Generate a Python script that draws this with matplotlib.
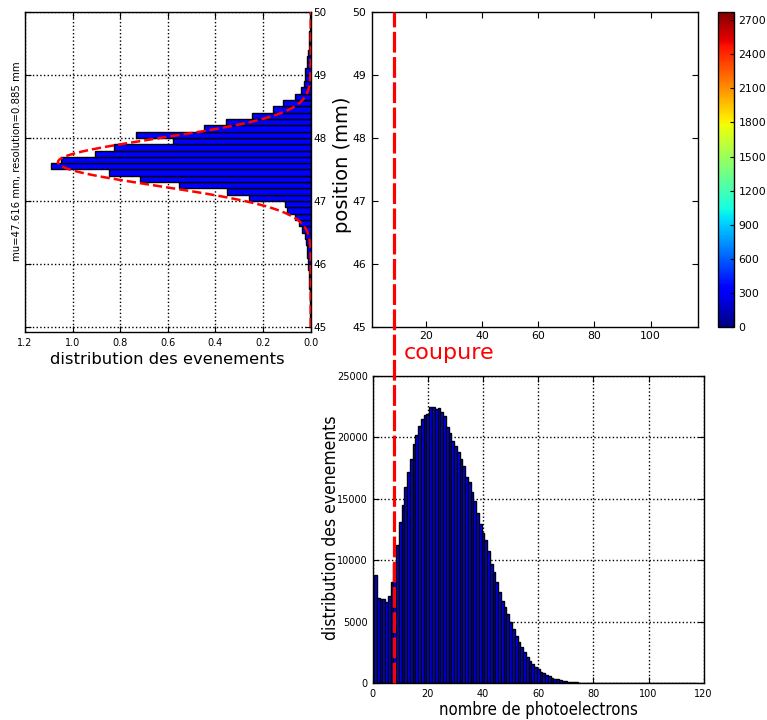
import numpy as np
import matplotlib
matplotlib.use("Agg")
import matplotlib.pyplot as plt
from matplotlib.lines import Line2D
from matplotlib import transforms
from matplotlib.cm import ScalarMappable
from matplotlib.colors import Normalize

# ---------------- data ----------------
# left panel: normalised distribution of positions (bins of 0.1 mm from 45.0 to 50.0)
pos_bin_low = np.round(np.arange(45.0, 50.0, 0.1), 1)
pos_density = [0.003, 0.003, 0.004, 0.004, 0.005, 0.005, 0.006, 0.007, 0.008, 0.010,
               0.011, 0.014, 0.017, 0.020, 0.026, 0.036, 0.048, 0.065, 0.098, 0.107,
               0.261, 0.353, 0.553, 0.716, 0.847, 1.090, 1.049, 0.906, 0.827, 0.579,
               0.732, 0.448, 0.356, 0.246, 0.160, 0.115, 0.065, 0.039, 0.028, 0.022,
               0.022, 0.017, 0.014, 0.011, 0.008, 0.007, 0.006, 0.004, 0.003, 0.003]
fit_mu = 47.616
fit_resolution = 0.885  # FWHM (mm)

# bottom panel: number of photoelectrons
n_pe = np.arange(1, 118)
pe_counts = [8780, 6960, 6830, 6830, 6610, 7130, 8210, 9760, 11250, 13140,
             14520, 15960, 17180, 18210, 19460, 20190, 20950, 21520, 21810, 21870,
             22490, 22440, 22300, 22410, 22060, 21710, 20840, 20350, 19700, 19270,
             18800, 18250, 17700, 16800, 16340, 15530, 14820, 13820, 12950, 12200,
             11650, 10760, 9700, 9030, 8210, 7400, 6720, 6230, 5610, 4960,
             4420, 3850, 3390, 2980, 2570, 2170, 1810, 1600, 1300, 1140,
             950, 810, 680, 560, 460, 380, 310, 250, 200, 165,
             130, 105, 85, 68, 55, 44, 35, 28, 22, 18,
             15, 12, 10, 8, 7, 6, 5, 4, 4, 3,
             3, 2, 2, 2, 2, 1, 1, 1, 1, 1,
             1, 1, 1, 0, 1, 0, 0, 1, 0, 0,
             0, 0, 0, 0, 0, 0, 1]
cut_value = 7.8

# colorbar of the (empty) 2-D map
cbar_max = 2773
cbar_ticks = list(range(0, 2701, 300))

left_xticks = [0.0, 0.2, 0.4, 0.6, 0.8, 1.0, 1.2]
pos_ticks = [45, 46, 47, 48, 49, 50]
top_xticks = [20, 40, 60, 80, 100]
bot_xticks = [0, 20, 40, 60, 80, 100, 120]
bot_yticks = [0, 5000, 10000, 15000, 20000, 25000]

# ---------------- figure ----------------
W, H = 767, 720
fig = plt.figure(figsize=(W / 100, H / 100), dpi=100)
plt.rcParams['font.family'] = ['DejaVu Sans']


def box(x0, y0, x1, y1):
    return [x0 / W, 1 - y1 / H, (x1 - x0) / W, (y1 - y0) / H]


def classic_ticks(ax, size):
    ax.tick_params(which='both', direction='in', top=True, right=True,
                   length=4, width=0.8, labelsize=size, colors='black')
    for s in ax.spines.values():
        s.set_linewidth(1.0)
        s.set_color('black')


# left panel
axL = fig.add_axes(box(25, 11.7, 310.7, 332.3))
axL.barh(pos_bin_low, pos_density, height=0.1, align='edge', color='blue',
         edgecolor='black', linewidth=1.0, zorder=2)
sigma = fit_resolution / (2 * np.sqrt(2 * np.log(2)))
yy = np.linspace(45, 50, 400)
gauss = np.exp(-0.5 * ((yy - fit_mu) / sigma) ** 2) / (sigma * np.sqrt(2 * np.pi))
axL.plot(gauss, yy, color='red', linestyle='--', linewidth=1.8, zorder=3)
axL.set_xlim(1.2, 0.0)
axL.set_ylim(44.92, 50)
axL.set_xticks(left_xticks)
axL.set_yticks(pos_ticks)
axL.grid(True, linestyle=':', color='black', linewidth=1.0, zorder=0)
axL.set_axisbelow(True)
classic_ticks(axL, 7)
axL.tick_params(axis='y', labelleft=False, labelright=True, labelsize=7.5, pad=2)
axL.tick_params(axis='x', pad=4)

# top right panel (empty map)
axT = fig.add_axes(box(371.7, 11.7, 698.3, 327.3))
axT.set_xlim(0.8, 117)
axT.set_ylim(45, 50)
axT.set_xticks(top_xticks)
axT.set_yticks(pos_ticks)
classic_ticks(axT, 7.8)
axT.tick_params(axis='x', pad=2.5)
axT.tick_params(axis='y', pad=4)

# colorbar
cax = fig.add_axes(box(718.3, 11.7, 734.3, 327.3))
sm = ScalarMappable(norm=Normalize(0, cbar_max), cmap='jet')
cb = fig.colorbar(sm, cax=cax, ticks=cbar_ticks)
cb.outline.set_linewidth(1.0)
cax.tick_params(direction='in', length=3, labelsize=7.8, pad=3)

# bottom panel
axB = fig.add_axes(box(372.7, 375.7, 703.7, 683.3))
axB.bar(n_pe, pe_counts, width=1.0, align='center', color='blue',
        edgecolor='black', linewidth=1.0, zorder=2)
axB.set_xlim(0, 120)
axB.set_ylim(0, 25000)
axB.set_xticks(bot_xticks)
axB.set_yticks(bot_yticks)
axB.grid(True, linestyle=':', color='black', linewidth=1.0, zorder=0)
axB.set_axisbelow(True)
classic_ticks(axB, 7)
axB.tick_params(axis='x', pad=4)

# cut line spanning both right panels
trans = transforms.blended_transform_factory(axB.transData, fig.transFigure)
fig.add_artist(Line2D([cut_value, cut_value], [1 - 683.3 / H, 1 - 11.7 / H],
                      transform=trans, color='red', linewidth=2.3,
                      linestyle=(0, (6.5, 1.4)), zorder=10))

# texts
fig.text(17 / W, 1 - 161 / H, 'mu=47.616 mm, resolution=0.885 mm', rotation=90,
         ha='center', va='center', fontsize=7.3)
fig.text(167 / W, 1 - 360 / H, 'distribution des evenements', ha='center',
         va='center', fontsize=11.8)
fig.text(343 / W, 1 - 165 / H, 'position (mm)', rotation=90, ha='center',
         va='center', fontsize=14)
fig.text(404 / W, 1 - 353 / H, 'coupure', color='red', ha='left', va='center',
         fontsize=16)
fig.text(331 / W, 1 - 528 / H, 'distribution des evenements', rotation=90,
         ha='center', va='center', fontsize=12.5, fontstretch='condensed')
fig.text(538 / W, 1 - 710 / H, 'nombre de photoelectrons', ha='center',
         va='center', fontsize=12, fontstretch='condensed')

fig.savefig('out.png', dpi=100)
